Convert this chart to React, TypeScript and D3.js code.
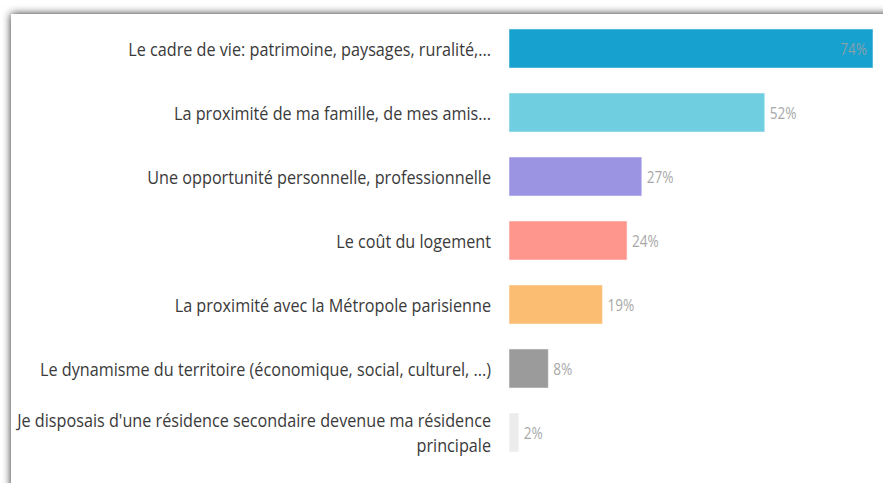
import * as d3 from "d3";

const categories = [
  "Le cadre de vie: patrimoine, paysages, ruralité,...",
  "La proximité de ma famille, de mes amis...",
  "Une opportunité personnelle, professionnelle",
  "Le coût du logement",
  "La proximité avec la Métropole parisienne",
  "Le dynamisme du territoire (économique, social, culturel, ...)",
  "Je disposais d'une résidence secondaire devenue ma résidence principale",
];
const labelLines = [
  ["Le cadre de vie: patrimoine, paysages, ruralité,..."],
  ["La proximité de ma famille, de mes amis..."],
  ["Une opportunité personnelle, professionnelle"],
  ["Le coût du logement"],
  ["La proximité avec la Métropole parisienne"],
  ["Le dynamisme du territoire (économique, social, culturel, ...)"],
  ["Je disposais d'une résidence secondaire devenue ma résidence", "principale"],
];
const values = [74, 52, 27, 24, 19, 8, 2];
const colors = ["#17a1cf", "#6fcedf", "#9b94e2", "#ff968d", "#fbbd71", "#9b9b9b", "#ececec"];

const W = 883;
const H = 483;
const barLeft = 509;
const labelRight = 491;
const sx = 0.876; // horizontal squeeze of the text

export default function App() {
  const x = d3.scaleLinear().domain([0, 74]).range([barLeft, 873]);
  const y = d3
    .scaleBand<string>()
    .domain(categories)
    .range([16.5, 16.5 + 64 * 7])
    .paddingInner(0.39)
    .paddingOuter(0.195);

  return (
    <svg
      width={W}
      height={H}
      style={{ position: "absolute", left: 0, top: 0, background: "#fff" }}
      fontFamily="'Open Sans', sans-serif"
    >
      <defs>
        <filter id="shadow" x="-5%" y="-10%" width="120%" height="130%">
          <feDropShadow dx="0" dy="0" stdDeviation="4" floodColor="#000" floodOpacity="0.85" />
        </filter>
      </defs>
      <rect x={0} y={0} width={W} height={H} fill="#fff" />
      <rect x={11} y={14} width={W + 40} height={H + 40} fill="#fff" filter="url(#shadow)" />

      {categories.map((c, i) => {
        const yc = (y(c) ?? 0) + y.bandwidth() / 2;
        const lines = labelLines[i];
        const lh = 25;
        const y0 = yc - ((lines.length - 1) * lh) / 2;
        const inside = values[i] > 60;
        const xe = x(values[i]);
        return (
          <g key={c}>
            <rect
              x={barLeft}
              y={y(c)}
              width={xe - barLeft}
              height={y.bandwidth()}
              fill={colors[i]}
              stroke="#fff"
              strokeOpacity={0.5}
            />
            {lines.map((l, j) => (
              <text
                key={j}
                transform={`translate(${labelRight},${y0 + j * lh}) scale(${sx},1)`}
                textAnchor="end"
                dominantBaseline="central"
                fontSize={18.5}
                fill="#3a3a3a"
              >
                {l}
              </text>
            ))}
            <text
              transform={`translate(${inside ? xe - 6 : xe + 5},${yc}) scale(0.8,1)`}
              textAnchor={inside ? "end" : "start"}
              dominantBaseline="central"
              fontSize={17}
              fill={inside ? "#869fab" : "#a8a8a8"}
            >
              {values[i]}%
            </text>
          </g>
        );
      })}
    </svg>
  );
}
